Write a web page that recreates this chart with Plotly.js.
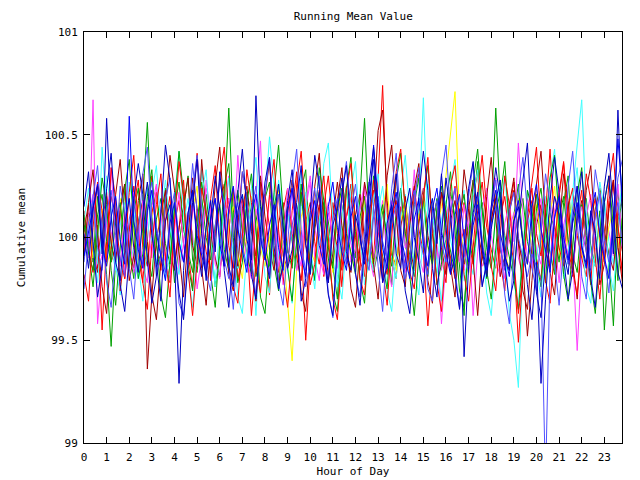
<!DOCTYPE html>
<html>
<head>
<meta charset="utf-8">
<script src="https://cdn.plot.ly/plotly-3.0.1.min.js"></script>
<style>html,body{margin:0;padding:0;background:#fff;}#chart{width:640px;height:480px;}</style>
</head>
<body>
<div id="chart"></div>
<script>
const hours = [0,0.2,0.4,0.6,0.8,1,1.2,1.4,1.6,1.8,2,2.2,2.4,2.6,2.8,3,3.2,3.4,3.6,3.8,4,4.2,4.4,4.6,4.8,5,5.2,5.4,5.6,5.8,6,6.2,6.4,6.6,6.8,7,7.2,7.4,7.6,7.8,8,8.2,8.4,8.6,8.8,9,9.2,9.4,9.6,9.8,10,10.2,10.4,10.6,10.8,11,11.2,11.4,11.6,11.8,12,12.2,12.4,12.6,12.8,13,13.2,13.4,13.6,13.8,14,14.2,14.4,14.6,14.8,15,15.2,15.4,15.6,15.8,16,16.2,16.4,16.6,16.8,17,17.2,17.4,17.6,17.8,18,18.2,18.4,18.6,18.8,19,19.2,19.4,19.6,19.8,20,20.2,20.4,20.6,20.8,21,21.2,21.4,21.6,21.8,22,22.2,22.4,22.6,22.8,23,23.2,23.4,23.6,23.8];

const redA = [100.05,99.92,100.18,99.85,100.10,100.22,99.88,99.95,100.15,99.80,100.02,100.25,99.90,99.78,100.12,100.30,99.96,99.84,100.08,100.20,99.87,100.04,100.28,99.93,99.75,100.14,100.03,99.82,100.19,100.35,99.98,99.86,100.11,100.24,99.79,99.94,100.16,100.07,99.83,100.27,100.01,99.72,100.09,100.21,99.91,99.85,100.13,100.32,99.97,99.50,99.88,100.06,100.23,99.81,99.95,100.17,100.02,99.76,100.10,100.26,99.93,99.84,100.20,100.05,99.89,100.29,100.74,100.12,99.90,99.80,100.15,100.03,99.87,100.22,100.31,99.94,99.83,100.08,100.18,99.91,99.78,100.11,100.25,99.96,100.04,99.85,100.19,100.33,99.92,99.82,100.07,100.21,99.88,99.74,100.13,100.27,99.99,99.86,100.10,100.24,99.90,99.79,100.16,100.06,99.84,100.20,100.36,99.97,99.81,100.09,100.23,99.93,99.77,100.14,100.02,99.89,100.18,100.28,99.95,99.85];
const greenA = [99.96,100.12,99.88,100.20,100.03,99.82,99.47,99.90,100.15,100.26,99.94,99.80,100.08,100.18,100.56,100.10,99.86,99.92,100.24,100.05,99.78,99.97,100.14,100.30,99.89,99.83,100.07,100.21,100.00,99.76,99.91,100.16,100.63,100.09,99.85,99.95,100.22,100.11,99.81,99.93,100.19,100.27,99.87,99.74,100.06,100.15,99.98,99.84,100.23,100.33,99.92,99.79,100.04,100.17,100.08,99.86,99.70,100.12,100.25,100.01,99.90,100.20,100.58,100.07,99.83,99.94,100.13,100.02,99.77,100.10,100.24,99.96,99.88,100.16,100.29,99.93,99.81,100.05,100.19,99.89,99.99,100.22,100.10,99.85,99.62,100.03,100.14,100.37,99.95,99.80,100.09,100.63,100.18,99.91,99.84,100.11,100.26,99.97,99.87,100.06,100.21,99.94,99.78,100.12,100.04,99.88,100.17,100.30,99.92,99.83,100.08,100.19,99.96,99.86,100.13,99.55,99.90,100.07,100.22,100.01];
const blueDarkA = [100.02,99.85,100.14,100.25,99.92,100.58,100.10,99.88,99.79,100.06,100.19,99.95,99.83,100.11,100.27,100.01,99.87,99.69,100.08,100.16,99.90,99.29,99.84,100.12,100.23,99.97,99.81,100.05,100.18,99.93,100.32,100.07,99.86,99.76,100.13,100.21,99.99,99.89,100.69,100.15,99.91,99.80,100.09,100.26,100.04,99.85,99.94,100.17,100.35,99.96,99.82,100.10,100.22,99.90,99.78,100.06,100.14,100.29,99.93,99.84,100.11,100.01,99.87,100.20,100.38,99.95,99.79,100.07,100.16,99.92,99.85,100.13,100.24,100.00,99.88,99.73,100.09,100.19,99.97,100.31,100.05,99.83,99.90,100.14,99.42,99.86,100.12,100.22,99.94,99.81,100.04,100.18,100.28,99.91,99.84,100.08,100.15,99.98,99.77,99.60,99.88,99.29,99.70,100.03,100.20,100.11,99.93,99.82,100.09,100.25,99.96,99.87,100.13,100.02,99.80,100.17,100.30,99.92,100.62,100.10];
const magentaA = [100.10,99.90,100.67,99.58,99.85,100.12,100.03,99.92,100.18,99.81,99.96,100.22,100.07,99.86,99.78,100.15,100.26,99.94,99.88,100.05,100.19,99.83,99.97,100.11,100.02,99.75,99.91,100.24,100.13,99.89,99.80,100.08,100.30,99.95,99.87,100.16,100.04,99.82,100.21,100.47,99.93,99.84,100.12,100.01,99.77,100.09,100.23,99.96,99.86,100.14,100.27,99.90,99.79,100.06,100.17,99.98,99.85,100.20,100.10,99.88,99.94,100.13,100.25,99.92,99.81,100.03,100.18,99.87,99.76,100.11,100.22,99.95,100.05,100.33,99.91,99.83,100.09,100.16,99.97,99.58,99.89,100.14,100.24,99.93,99.84,100.07,100.20,100.02,99.86,99.92,100.15,100.29,99.96,99.80,100.04,100.12,99.90,99.82,100.19,100.08,99.94,99.87,100.13,100.23,99.99,99.78,100.06,100.17,99.92,99.45,99.88,100.10,100.21,99.95,99.85,100.14,100.03,99.91,100.26,99.97];
const cyanA = [99.93,100.08,100.20,99.87,100.44,100.12,99.95,99.84,100.06,100.17,100.02,99.89,99.80,100.13,100.24,99.97,99.86,100.10,100.28,100.05,99.91,99.82,100.07,100.19,99.99,99.88,100.33,100.14,99.94,99.79,100.04,100.16,100.09,99.92,99.85,100.21,100.11,99.96,99.62,100.03,100.18,100.49,100.26,99.90,99.83,100.12,100.00,99.87,100.15,100.22,99.95,99.81,100.08,100.19,100.04,99.89,99.76,100.11,100.24,99.98,99.86,100.06,100.17,99.93,99.84,100.13,100.25,100.03,99.90,99.80,100.10,100.21,99.96,99.87,100.14,100.68,100.07,99.94,99.83,100.09,100.18,99.99,99.88,100.12,100.23,99.91,99.82,100.05,100.16,99.95,99.85,100.11,100.27,99.97,99.63,99.50,99.27,99.88,100.13,100.02,99.89,100.08,100.20,99.94,99.84,100.15,100.04,99.90,100.22,100.45,100.67,100.12,99.93,99.86,100.09,100.19,99.98,99.87,100.14,100.24];
const darkRedA = [100.04,100.16,99.91,99.83,100.09,100.20,99.97,99.88,100.13,100.26,99.94,99.85,100.06,100.18,99.36,99.72,99.99,100.11,100.23,99.92,99.84,100.05,100.15,100.29,99.96,99.87,100.38,100.12,100.02,99.90,99.81,100.08,100.19,99.98,99.86,100.14,100.25,100.03,99.91,100.30,100.10,99.95,99.84,100.07,100.17,99.93,99.88,100.12,100.22,99.97,99.85,100.04,100.16,99.94,99.78,100.09,100.27,100.06,99.90,99.83,100.11,100.21,99.99,99.87,100.15,100.52,100.62,100.18,99.92,99.86,100.05,100.20,99.96,99.84,100.10,100.24,100.01,99.89,100.13,99.95,99.82,100.08,100.18,99.97,99.87,100.14,100.28,100.04,99.91,99.81,100.09,100.19,99.94,99.86,100.12,100.23,99.98,99.88,99.52,99.79,100.06,100.16,99.95,99.85,100.11,100.21,100.02,99.90,99.82,100.08,100.18,99.96,99.87,100.13,100.24,100.03,99.92,99.84,100.10,100.20];
const yellowA = [99.97,100.10,99.90,100.03,100.14,99.86,99.95,100.08,100.19,99.92,99.84,100.05,100.16,99.98,99.88,100.11,100.22,99.94,99.85,100.07,100.17,99.96,99.89,100.02,100.13,100.25,99.93,99.82,100.09,100.18,99.99,99.87,100.06,100.15,99.91,99.80,100.04,100.20,100.12,99.95,99.86,100.01,100.14,100.23,99.97,99.68,99.40,99.85,100.10,100.19,99.94,99.88,100.07,100.16,99.99,99.83,100.12,100.24,100.03,99.92,99.85,100.09,100.18,99.96,99.87,100.05,100.14,100.26,99.93,99.84,100.08,100.17,99.98,99.89,100.11,100.21,99.95,99.86,100.04,100.15,100.30,100.50,100.71,100.09,99.91,99.82,100.06,100.18,99.97,99.88,100.13,100.22,100.02,99.93,99.84,100.10,100.19,99.96,99.87,100.07,100.16,99.99,99.90,100.12,100.25,99.94,99.83,100.08,100.17,100.01,99.92,99.85,100.11,100.20,99.97,99.88,100.05,100.15,99.95,100.09];
const blueMidA = [99.88,100.07,100.18,99.95,99.84,100.12,100.23,100.01,99.90,99.81,100.09,100.20,99.97,99.87,100.15,100.27,100.05,99.92,99.83,100.11,100.22,99.98,99.88,100.06,100.36,100.13,99.94,99.85,100.10,100.19,100.00,99.89,99.80,100.08,100.17,99.96,99.86,100.14,100.25,100.03,99.91,99.82,100.11,100.21,99.99,99.88,100.06,100.16,99.95,99.84,100.12,100.24,100.02,99.90,99.81,100.09,100.19,99.97,99.87,100.13,100.26,100.04,99.93,99.84,100.10,100.20,99.98,99.89,100.07,100.16,99.96,99.85,100.14,100.23,100.01,99.91,99.82,100.08,100.18,99.97,99.88,100.12,100.24,100.03,99.92,99.83,100.10,100.20,99.98,99.86,100.06,100.15,99.95,99.84,100.13,100.22,100.00,99.90,99.81,99.92,99.86,99.80,98.80,99.85,100.09,100.19,99.97,99.87,100.14,100.25,100.04,99.93,99.84,100.11,100.21,99.99,99.88,100.07,100.17,99.95];
const redB = [100.13,99.94,99.83,100.06,99.55,99.98,100.20,100.09,99.89,99.80,100.04,100.17,100.28,99.95,99.86,100.12,100.22,100.01,99.91,99.78,100.07,100.18,99.97,99.87,100.14,100.41,100.10,99.93,99.84,100.03,100.16,100.26,99.96,99.85,100.09,100.19,99.99,99.62,99.88,100.11,100.21,100.05,99.92,99.83,100.13,100.24,100.02,99.90,99.79,100.08,100.17,99.98,99.87,100.15,100.30,100.06,99.94,99.84,100.10,100.20,100.00,99.89,99.81,100.12,100.23,100.03,99.91,99.82,100.09,100.18,99.97,99.86,100.14,100.25,100.04,99.93,99.57,99.88,100.11,100.21,100.01,99.90,99.80,100.07,100.17,99.98,99.87,100.13,100.27,100.05,99.94,99.85,100.10,100.20,99.99,99.89,99.49,99.83,100.08,100.18,100.02,99.91,100.12,100.43,100.06,99.95,99.86,100.15,100.24,100.01,99.90,99.81,100.09,100.19,100.00,99.88,100.14,100.26,100.04,99.93];
const blueB = [99.91,100.03,100.15,100.26,99.96,99.86,100.10,100.20,99.99,99.87,100.59,100.08,99.94,99.85,100.13,100.23,100.02,99.90,99.79,100.07,100.17,99.98,99.88,100.12,100.22,100.01,99.92,99.82,100.09,100.19,99.97,99.86,100.14,100.25,100.04,99.93,99.83,100.11,100.21,100.00,99.89,100.06,100.16,99.95,99.84,100.13,100.24,100.03,99.91,99.81,100.08,100.18,99.96,99.87,100.15,100.27,100.05,99.93,99.84,100.10,100.20,99.99,99.89,100.07,100.45,100.17,99.95,99.85,100.12,100.22,100.01,99.90,99.80,100.09,100.19,99.97,99.86,100.14,100.24,100.03,99.92,99.82,100.11,100.21,99.99,99.88,100.06,100.16,99.96,99.84,100.13,100.23,100.02,99.91,99.81,100.08,100.18,99.97,99.87,100.15,100.26,100.04,99.93,99.83,100.10,100.20,100.00,99.89,100.07,100.17,99.95,99.85,100.12,100.22,100.01,99.90,99.80,100.09,100.48,100.19];
const greenB = [100.06,99.93,99.84,100.11,100.21,99.98,99.88,100.07,100.17,99.95,99.85,100.13,100.24,100.02,99.91,99.81,100.09,100.19,99.97,99.87,100.14,100.27,100.04,99.93,99.83,100.10,100.20,100.00,99.89,100.06,100.16,99.94,99.84,100.12,100.23,100.03,99.92,99.82,100.08,100.18,99.96,99.86,100.15,100.26,100.05,99.94,99.85,100.11,100.21,100.01,99.90,99.80,100.07,100.17,99.95,99.85,100.14,100.24,100.03,99.92,99.82,100.10,100.20,99.99,99.88,100.06,100.16,99.97,99.86,100.13,100.23,100.02,99.91,99.81,100.08,100.18,99.96,99.87,100.15,100.25,100.04,99.93,99.83,100.11,100.21,100.00,99.89,100.07,100.17,99.95,99.85,100.12,100.22,100.01,99.90,99.80,100.09,100.19,99.98,99.88,100.14,100.24,100.03,99.92,99.82,100.10,100.20,99.99,99.87,100.06,100.16,99.96,99.86,100.13,100.23,100.02,99.91,99.57,100.08,100.18];
const magentaB = [99.94,100.11,100.21,99.99,99.89,100.06,100.34,99.97,99.86,100.13,100.02,99.83,99.95,100.18,100.08,99.90,100.25,100.12,99.88,99.79,100.05,100.22,99.96,99.85,100.16,100.03,99.92,100.28,100.10,99.87,99.81,100.09,100.19,99.98,100.40,100.06,99.89,99.80,100.14,100.02,99.93,100.20,100.11,99.86,99.97,100.24,100.07,99.84,99.94,100.17,100.30,100.05,99.91,99.82,100.12,100.01,99.88,100.21,100.09,99.96,99.85,100.15,100.26,99.99,99.90,100.08,99.78,100.04,100.18,100.10,99.92,99.83,100.13,100.03,99.87,100.22,100.35,100.06,99.95,99.84,100.10,100.20,99.97,99.88,100.16,100.04,99.62,99.93,100.14,100.24,100.01,99.89,99.81,100.07,100.17,99.98,100.46,100.11,99.90,99.85,100.09,100.19,99.96,99.87,100.13,100.23,100.02,99.91,99.82,100.06,100.15,99.97,99.86,100.12,100.22,100.00,99.89,100.08,100.18,99.94];
const blueDarkB = [100.15,100.32,99.98,99.71,99.86,100.24,100.41,100.08,99.77,99.64,99.92,100.19,100.36,100.21,99.89,99.68,99.81,100.12,100.45,100.28,99.95,99.73,99.60,99.88,100.17,100.38,100.02,99.79,100.09,100.30,100.14,99.84,99.66,99.91,100.22,100.43,100.11,99.82,99.70,100.04,100.27,100.39,99.96,99.75,99.87,100.18,100.33,100.06,99.69,99.80,100.13,100.40,100.25,99.93,99.72,99.62,99.97,100.21,100.35,100.05,99.83,99.67,99.94,100.26,100.44,100.10,99.78,99.86,100.16,100.31,99.99,99.74,99.63,99.90,100.20,100.42,100.23,99.85,99.71,100.01,100.29,100.12,99.81,99.65,99.95,100.24,100.37,100.07,99.76,99.88,100.15,100.34,100.19,99.87,99.69,99.79,100.08,100.28,100.46,100.03,99.73,99.61,99.92,100.18,100.39,100.22,99.90,99.70,99.84,100.11,100.32,100.06,99.80,99.66,99.97,100.25,100.41,100.14,99.83,99.75];
const redC = [99.82,99.69,100.05,100.27,100.13,99.88,100.34,100.19,99.74,99.93,100.22,100.40,100.03,99.78,99.65,99.97,100.16,100.31,99.90,99.71,100.08,100.37,100.20,99.84,99.62,99.89,100.24,100.12,99.79,100.02,100.29,100.44,100.09,99.76,99.68,100.00,100.33,100.17,99.86,99.73,99.96,100.21,100.38,100.04,99.81,99.66,99.91,100.26,100.42,100.10,99.77,99.87,100.14,100.30,99.98,99.70,99.60,99.94,100.23,100.36,100.06,99.80,99.72,100.01,100.28,100.15,99.85,99.67,99.99,100.32,100.43,100.11,99.83,99.75,100.07,100.19,100.39,100.02,99.78,99.64,99.92,100.25,100.35,100.08,99.82,99.69,99.95,100.21,100.40,100.13,99.86,99.74,100.03,100.30,100.16,99.88,99.63,99.81,100.12,100.27,100.44,100.05,99.79,99.68,99.96,100.22,100.37,100.09,99.84,99.72,100.04,100.31,100.18,99.90,99.70,99.98,100.26,100.41,100.07,99.80];
const greenC = [100.11,99.93,99.76,100.02,100.29,100.16,99.84,99.67,99.95,100.23,100.38,100.06,99.80,99.92,100.20,100.33,99.99,99.72,99.61,99.89,100.14,100.42,100.21,99.87,99.74,100.04,100.27,100.10,99.82,99.66,99.97,100.25,100.36,100.00,99.78,99.88,100.17,100.31,100.05,99.71,99.63,99.94,100.22,100.45,100.12,99.85,99.69,99.98,100.26,100.09,99.83,100.07,100.34,100.18,99.90,99.73,99.64,99.96,100.24,100.39,100.03,99.79,99.68,100.01,100.30,100.15,99.86,99.75,100.08,100.28,100.41,100.13,99.81,99.62,99.93,100.20,100.35,100.06,99.77,99.87,100.16,100.32,100.02,99.74,99.66,99.99,100.27,100.43,100.11,99.84,99.70,99.95,100.19,100.37,100.04,99.80,99.65,99.91,100.23,100.14,99.88,99.76,100.06,100.29,100.40,100.08,99.82,99.69,99.97,100.21,100.34,100.01,99.78,99.63,99.92,100.17,100.30,100.05,99.79,100.12];
const blueMidB = [99.75,99.97,100.20,100.35,100.02,99.79,99.66,99.93,100.25,100.12,99.85,99.70,100.01,100.31,100.44,100.07,99.81,99.92,100.18,100.29,99.96,99.68,99.62,99.90,100.23,100.40,100.14,99.83,99.74,100.05,100.28,100.16,99.87,99.65,99.98,100.32,100.19,99.89,99.72,99.95,100.21,100.39,100.09,99.78,99.67,99.99,100.26,100.43,100.04,99.76,99.88,100.13,100.30,100.00,99.73,99.61,99.94,100.22,100.37,100.10,99.82,99.71,100.03,100.27,100.15,99.86,99.64,99.96,100.24,100.41,100.06,99.80,99.90,100.17,100.34,100.01,99.75,99.69,100.08,100.30,100.45,100.11,99.84,99.66,99.97,100.20,100.36,100.03,99.77,99.87,100.14,100.28,99.99,99.72,99.58,99.93,100.22,100.39,100.12,99.85,99.74,100.02,100.31,100.17,99.88,99.67,99.95,100.25,100.42,100.08,99.81,99.70,100.04,100.33,100.19,99.91,99.73,100.06,100.29,100.38];
const cyanB = [100.08,100.24,99.95,99.78,100.06,100.30,100.13,99.86,99.72,100.01,100.27,100.14,99.87,99.69,99.99,100.22,100.35,100.04,99.80,99.91,100.19,100.42,100.10,99.83,99.66,99.94,100.21,100.33,100.00,99.76,99.88,100.16,100.29,99.97,99.71,99.63,99.96,100.24,100.39,100.07,99.81,99.73,100.03,100.28,100.12,99.85,99.68,100.00,100.32,100.20,99.90,99.75,100.05,100.36,100.46,100.09,99.82,99.70,99.98,100.23,100.37,100.02,99.77,99.89,100.18,100.31,99.98,99.74,99.64,99.93,100.22,100.40,100.11,99.84,99.72,100.04,100.26,100.15,99.87,99.69,99.97,100.25,100.38,100.06,99.79,99.92,100.20,100.33,99.99,99.73,99.62,99.90,100.17,100.30,100.03,99.78,99.67,99.96,100.23,100.11,99.84,99.71,100.02,100.29,100.43,100.08,99.80,99.90,100.19,100.34,100.01,99.76,99.68,99.99,100.27,100.14,99.86,99.74,100.05,100.31];
const darkRedB = [99.90,100.17,100.33,100.01,99.76,99.63,99.94,100.21,100.38,100.06,99.79,99.91,100.18,100.31,99.98,99.72,99.60,99.89,100.16,100.40,100.23,99.93,99.71,100.02,100.29,100.14,99.85,99.67,99.97,100.26,100.44,100.10,99.82,99.74,100.05,100.32,100.19,99.88,99.69,99.95,100.20,100.37,100.04,99.78,99.86,100.13,100.28,99.99,99.73,99.64,99.96,100.25,100.41,100.07,99.80,99.92,100.18,100.34,100.02,99.75,99.66,99.98,100.27,100.15,99.87,99.70,100.00,100.30,100.45,100.11,99.84,99.76,100.06,100.24,100.36,100.03,99.79,99.68,99.99,100.22,100.13,99.86,99.71,100.01,100.33,100.17,99.89,99.62,99.93,100.20,100.39,100.08,99.81,99.90,100.16,100.29,99.97,99.74,99.65,99.96,100.26,100.42,100.09,99.83,99.72,100.04,100.31,100.18,99.88,99.70,99.99,100.23,100.35,100.02,99.77,99.87,100.14,100.28,99.95,99.78];

const seriesList = [redA, greenA, magentaA, cyanA, darkRedA, yellowA, redB, greenB, magentaB, cyanB, darkRedB, greenC, redC, blueMidA, blueMidB, blueB, blueDarkA, blueDarkB];
const seriesColors = ['#ff0000','#00a000','#ff40ff','#40ffff','#a00000','#ffff00','#ff0000','#00a000','#ff40ff','#40ffff','#a00000','#00a000','#ff0000','#5050ff','#5050ff','#0000ff','#0000c0','#0000c0'];

const xTicks = [0,1,2,3,4,5,6,7,8,9,10,11,12,13,14,15,16,17,18,19,20,21,22,23];
const yTicks = [99, 99.5, 100, 100.5, 101];
const yTickText = ['99','99.5','100','100.5','101'];

const traces = seriesList.map((ys, k) => ({
  x: hours, y: ys, type: 'scatter', mode: 'lines',
  line: {color: seriesColors[k], width: 1},
  showlegend: false, hoverinfo: 'skip'
}));

const mono = {family: 'DejaVu Sans Mono, monospace', size: 11, color: '#000'};

const layout = {
  width: 640, height: 480,
  paper_bgcolor: '#fff', plot_bgcolor: '#fff',
  margin: {l: 84, r: 18, t: 32, b: 37, autoexpand: false},
  showlegend: false,
  font: mono,
  title: {text: 'Running Mean Value', font: mono, x: 0.552, xanchor: 'center', y: 0.967, yanchor: 'middle'},
  xaxis: {
    range: [0, 23.78], tickvals: xTicks, ticktext: xTicks.map(String),
    ticks: 'inside', ticklen: 6, tickwidth: 1, tickcolor: '#000',
    showline: true, linecolor: '#000', linewidth: 1, mirror: 'ticks',
    showgrid: false, zeroline: false, tickfont: mono, ticklabelstandoff: 4,
    title: {text: 'Hour of Day', font: mono, standoff: 4}
  },
  yaxis: {
    range: [99, 101], tickvals: yTicks, ticktext: yTickText,
    ticks: 'inside', ticklen: 6, tickwidth: 1, tickcolor: '#000',
    showline: true, linecolor: '#000', linewidth: 1, mirror: 'ticks',
    showgrid: false, zeroline: false, tickfont: mono, ticklabelstandoff: 3,
    title: {text: 'Cumulative mean', font: mono, standoff: 16}
  }
};

Plotly.newPlot('chart', traces, layout, {staticPlot: true, displayModeBar: false});
</script>
</body>
</html>
